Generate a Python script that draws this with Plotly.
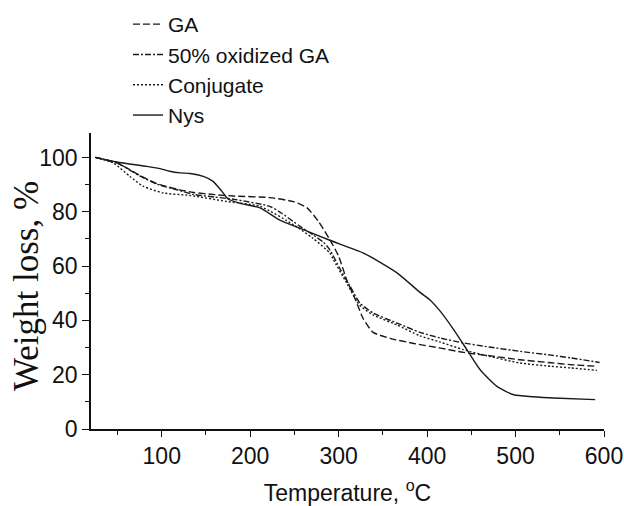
import plotly.graph_objects as go

# ---- data ----
ga_temp = [25, 50, 75, 95, 117, 136, 160, 181, 222, 249, 264, 277, 290, 300, 309, 319, 328, 339, 358, 385, 415, 441, 470, 505, 540, 562, 592]
ga_wt = [100, 97.9, 93.4, 90.3, 88.3, 87.1, 86.3, 85.8, 85.2, 83.7, 81.5, 76.5, 69.7, 63.6, 55, 47.6, 40.5, 35.6, 33.4, 31.5, 29.8, 28.2, 27.0, 25.5, 24.4, 23.7, 23.1]

ox_temp = [25, 50, 75, 95, 117, 136, 160, 181, 222, 234, 256, 271, 283, 290, 302, 313, 324, 339, 366, 392, 415, 441, 470, 505, 540, 562, 595]
ox_wt = [100, 97.9, 93.2, 90.1, 88.1, 86.4, 85.4, 84.6, 82, 79.8, 74.7, 71.5, 68.7, 66, 58.7, 52.5, 46.4, 42.7, 39, 35.6, 33.5, 31.7, 30.2, 28.6, 27.2, 26.2, 24.5]

conj_temp = [25, 45, 64, 79, 102, 132, 173, 211, 249, 271, 290, 294, 309, 324, 339, 366, 392, 415, 441, 470, 505, 540, 562, 592]
conj_wt = [100, 98, 93, 89.4, 86.9, 86, 83.8, 82, 75.2, 70.2, 64.8, 62.4, 53.8, 45.5, 42, 38.3, 34.3, 32, 29.2, 26.8, 24.3, 23.1, 22.5, 21.6]

nys_temp = [25, 49, 83, 98, 109, 121, 132, 147, 158, 168, 175, 190, 211, 234, 256, 290, 328, 366, 392, 403, 415, 430, 445, 460, 479, 498, 520, 543, 590]
nys_wt = [100, 98.3, 96.7, 95.9, 94.9, 94.3, 94.1, 93, 91.2, 87.5, 84.7, 83, 81.4, 76.8, 74, 69.5, 64.8, 57.5, 50.3, 47.6, 43.3, 36.6, 29.2, 21.8, 15.7, 12.6, 11.9, 11.4, 10.8]

series_names = ["GA", "50% oxidized GA", "Conjugate", "Nys"]

x_tick_vals = [100, 200, 300, 400, 500, 600]
y_tick_vals = [0, 20, 40, 60, 80, 100]

x_title = "Temperature, <sup>o</sup>C"
y_title = "Weight loss, %"

LINE = "#1a1a1a"
TXT = "#111"
sans = "Arial, Liberation Sans, sans-serif"
serif = "Times New Roman, Liberation Serif, serif"

fig = go.Figure()
styles = [
    (ga_temp, ga_wt, "7px,3px"),
    (ox_temp, ox_wt, "6px,2px,2px,2px"),
    (conj_temp, conj_wt, "2px,2px"),
    (nys_temp, nys_wt, "solid"),
]
for name, (xs, ys, dash) in zip(series_names, styles):
    fig.add_trace(go.Scatter(
        x=xs, y=ys, name=name, mode="lines",
        line=dict(color=LINE, width=1.4, dash=dash, shape="spline", smoothing=0.6),
    ))

# plot area: px 91..604 horizontally, 133..429 vertically
PL, PR, PT, PB = 91, 604, 133, 429
PW, PH = PR - PL, PB - PT

fig.update_layout(
    width=624, height=506,
    margin=dict(l=PL, r=624 - PR, t=PT, b=506 - PB, autoexpand=False),
    paper_bgcolor="white", plot_bgcolor="white",
    font=dict(family=sans, size=22, color=TXT),
    showlegend=True,
    legend=dict(
        x=(128 - PL) / PW, y=1 + (PT - 4) / PH,
        xanchor="left", yanchor="top",
        bgcolor="rgba(0,0,0,0)", borderwidth=0,
        font=dict(family=sans, size=21, color=TXT),
        tracegroupgap=0,
    ),
    xaxis=dict(
        range=[20, 600], tickvals=x_tick_vals,
        ticks="outside", ticklen=6, tickwidth=1.3, tickcolor=TXT,
        minor=dict(ticks="outside", ticklen=4, tickwidth=1.3, tickcolor=TXT, dtick=50, tick0=0),
        showline=True, linecolor=TXT, linewidth=1.5,
        showgrid=False, zeroline=False,
        tickfont=dict(family=sans, size=23, color=TXT),
        title=dict(text=x_title, font=dict(family=sans, size=23, color=TXT), standoff=26),
    ),
    yaxis=dict(
        range=[0, 109], tickvals=y_tick_vals,
        ticks="outside", ticklen=7, tickwidth=1.3, tickcolor=TXT,
        minor=dict(ticks="outside", ticklen=4, tickwidth=1.3, tickcolor=TXT, dtick=10, tick0=0),
        showline=True, linecolor=TXT, linewidth=1.5,
        showgrid=False, zeroline=False,
        tickfont=dict(family=sans, size=23, color=TXT),
    ),
    annotations=[dict(
        text=y_title, textangle=-90, showarrow=False,
        xref="paper", yref="paper",
        x=(26 - PL) / PW, y=(PB - 286) / PH,
        xanchor="center", yanchor="middle",
        font=dict(family=serif, size=35, color=TXT),
    )],
)

fig.write_html("out.html")
